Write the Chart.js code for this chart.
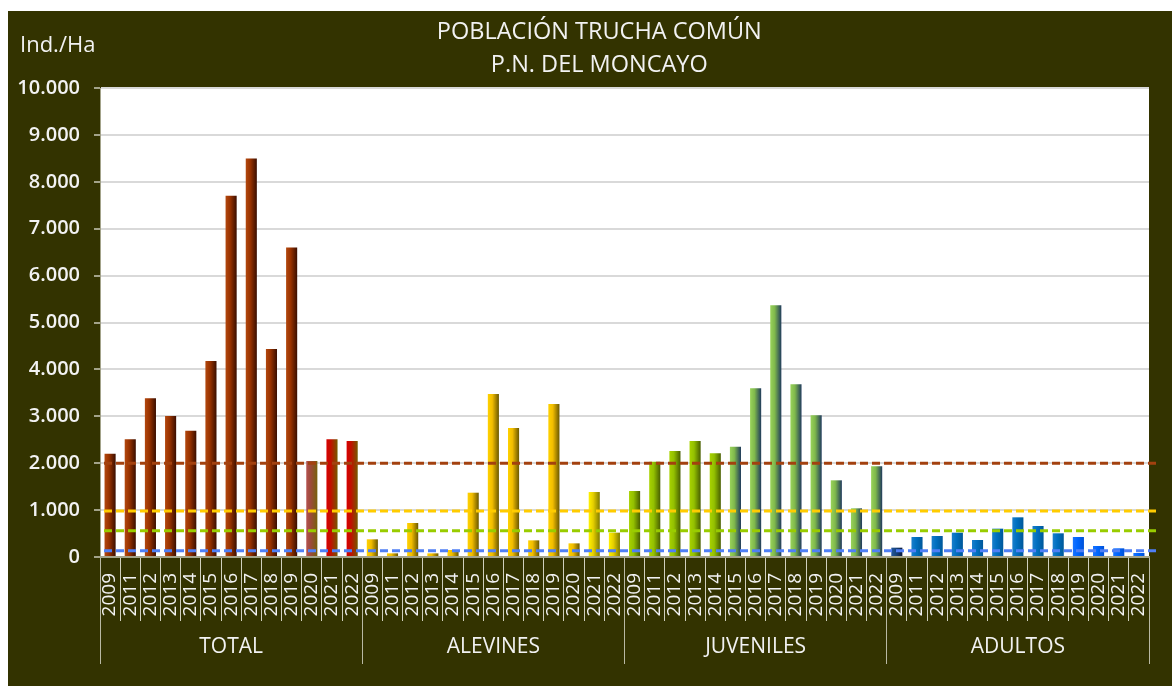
<!DOCTYPE html>
<html>
<head>
<meta charset="utf-8">
<script src="https://cdn.jsdelivr.net/npm/chart.js@4.4.1/dist/chart.umd.min.js"></script>
<style>
  html, body { margin: 0; background: #ffffff; }
  #wrap { position: absolute; left: 8px; top: 11px; width: 1164px; height: 675px; background: #333300; }
</style>
</head>
<body>
<div id="wrap"><canvas id="chart" width="1164" height="675"></canvas></div>
<script>
// Poblacion trucha comun - P.N. del Moncayo

const years = ["2009", "2011", "2012", "2013", "2014", "2015", "2016", "2017", "2018", "2019", "2020", "2021", "2022"];
const groups = ["TOTAL", "ALEVINES", "JUVENILES", "ADULTOS"];

const total = [2200, 2510, 3385, 3005, 2690, 4180, 7705, 8495, 4435, 6600, 2045, 2510, 2475];
const alevines = [377, 78, 725, 78, 149, 1371, 3475, 2750, 355, 3262, 291, 1386, 519];
const juveniles = [1407, 2033, 2260, 2473, 2211, 2352, 3597, 5366, 3682, 3021, 1635, 1038, 1933];
const adultos = [199, 426, 448, 519, 362, 604, 846, 661, 505, 426, 235, 185, 85];

const refLevels = [2000, 980, 560, 135];

const titleLines = ["POBLACIÓN TRUCHA COMÚN", "P.N. DEL MONCAYO"];
const unitLabel = "Ind./Ha";

// estilos
const refColors = ["#a3410f", "#ffcc00", "#99cc00", "#4f7ff5"];
const textColor = "#f2f2f2";
const lineColor = "#a3a38a";

const labels = groups.flatMap(() => years);
const values = total.concat(alevines, juveniles, adultos);

function shadeFor(index) {
  const g = Math.floor(index / years.length);
  const i = index % years.length;
  if (g === 0) {
    if (i < 10) return ["#b3480f", "#9a3300", "#3a0e00"];
    if (i === 10) return ["#b5524f", "#9c4a3a", "#76600c"];
    return ["#d80000", "#c01000", "#765800"];
  }
  if (g === 1) {
    if (i < 11) return ["#ffd200", "#f2bd00", "#6a5800"];
    return ["#fff200", "#e6d000", "#7e7a00"];
  }
  if (g === 2) {
    if (i < 5) return ["#a8d200", "#93c000", "#485e00"];
    return ["#99d35a", "#7fb84c", "#1f3a5c"];
  }
  if (i === 0) return ["#23589a", "#17457e", "#0a1a3c"];
  if (i < 9) return ["#1a7fcc", "#0070c0", "#00589a"];
  return ["#1a74ff", "#0066ff", "#0052d8"];
}

function barFill(context) {
  const chart = context.chart;
  const xs = chart.scales.x;
  const shade = shadeFor(context.dataIndex);
  if (!xs || !chart.chartArea) return shade[1];
  const cx = xs.getPixelForValue(context.dataIndex);
  const half = (xs.width / labels.length) * 0.55 / 2;
  const g = chart.ctx.createLinearGradient(cx - half, 0, cx + half, 0);
  g.addColorStop(0, shade[0]);
  g.addColorStop(0.4, shade[1]);
  g.addColorStop(1, shade[2]);
  return g;
}

function formatThousands(value) {
  return String(value).replace(/\B(?=(\d{3})+(?!\d))/g, ".");
}

const plotBackground = {
  id: "plotBackground",
  beforeDraw(chart) {
    const { ctx, chartArea } = chart;
    ctx.save();
    ctx.fillStyle = "#ffffff";
    ctx.fillRect(chartArea.left, chartArea.top, chartArea.right - chartArea.left, chartArea.bottom - chartArea.top);
    ctx.restore();
  },
};

const refLinesPlugin = {
  id: "refLines",
  afterDatasetsDraw(chart) {
    const { ctx, chartArea, scales } = chart;
    ctx.save();
    ctx.lineWidth = 3;
    ctx.setLineDash([8, 4]);
    refLevels.forEach((level, i) => {
      const py = scales.y.getPixelForValue(level);
      ctx.strokeStyle = refColors[i];
      ctx.beginPath();
      ctx.moveTo(chartArea.left + 4, py);
      ctx.lineTo(chartArea.right + 8, py);
      ctx.stroke();
    });
    ctx.restore();
  },
};

const headerPlugin = {
  id: "header",
  afterDraw(chart) {
    const ctx = chart.ctx;
    ctx.save();
    ctx.fillStyle = textColor;
    ctx.textBaseline = "middle";
    ctx.textAlign = "center";
    ctx.font = '23.5px "Open Sans"';
    ctx.fillText(titleLines[0], chart.width * 0.508, 21);
    ctx.fillText(titleLines[1], chart.width * 0.508, 54);
    ctx.textAlign = "left";
    ctx.font = '22px "Open Sans"';
    ctx.fillText(unitLabel, 12, 35);
    ctx.restore();
  },
};

function createTroutChart() {
  const ctx = document.getElementById("chart");

  window.troutChart = new Chart(ctx.getContext("2d"), {
    type: "bar",
    data: {
      labels: labels,
      datasets: [
        {
          label: "Ind./Ha",
          data: values,
          backgroundColor: barFill,
          borderWidth: 0,
          barPercentage: 0.55,
          categoryPercentage: 1,
        },
      ],
    },
    plugins: [plotBackground, refLinesPlugin, headerPlugin],
    options: {
      responsive: false,
      animation: false,
      layout: {
        padding: { top: 77, right: 23, left: 0, bottom: 0 },
      },
      plugins: {
        legend: { display: false },
        tooltip: { enabled: false },
        title: { display: false },
      },
      scales: {
        y: {
          min: 0,
          max: 10000,
          ticks: {
            stepSize: 1000,
            color: textColor,
            padding: 14,
            font: { family: "Open Sans", size: 20, weight: "600" },
            callback: function (value) {
              return formatThousands(value);
            },
          },
          grid: {
            color: "#d9d9d9",
            lineWidth: 2,
            tickLength: 6,
            tickColor: lineColor,
          },
          border: { display: true, color: lineColor, width: 1 },
          afterFit: function (scale) {
            scale.width = 92;
          },
        },
        x: {
          offset: true,
          weight: 1,
          grid: {
            offset: true,
            drawOnChartArea: false,
            tickLength: 64,
            tickColor: "#cfcfbd",
            lineWidth: 1,
          },
          border: { display: true, color: lineColor, width: 2 },
          ticks: {
            color: textColor,
            autoSkip: false,
            minRotation: 90,
            maxRotation: 90,
            padding: -48,
            font: { family: "Open Sans", size: 19 },
          },
          afterFit: function (scale) {
            scale.height = 129;
          },
        },
        x2: {
          type: "category",
          labels: groups,
          position: "bottom",
          offset: true,
          weight: 0,
          grid: {
            offset: true,
            drawOnChartArea: false,
            tickLength: 107,
            tickColor: "#b9b9a4",
            lineWidth: 1,
          },
          border: { display: false },
          ticks: {
            color: textColor,
            mirror: true,
            padding: -103,
            font: { family: "Open Sans", size: 21 },
          },
          afterFit: function (scale) {
            scale.height = 0;
          },
        },
      },
    },
  });
}

Promise.all([
  document.fonts.load('18px "Open Sans"'),
  document.fonts.load('600 18px "Open Sans"'),
]).then(createTroutChart, createTroutChart);
</script>
</body>
</html>
